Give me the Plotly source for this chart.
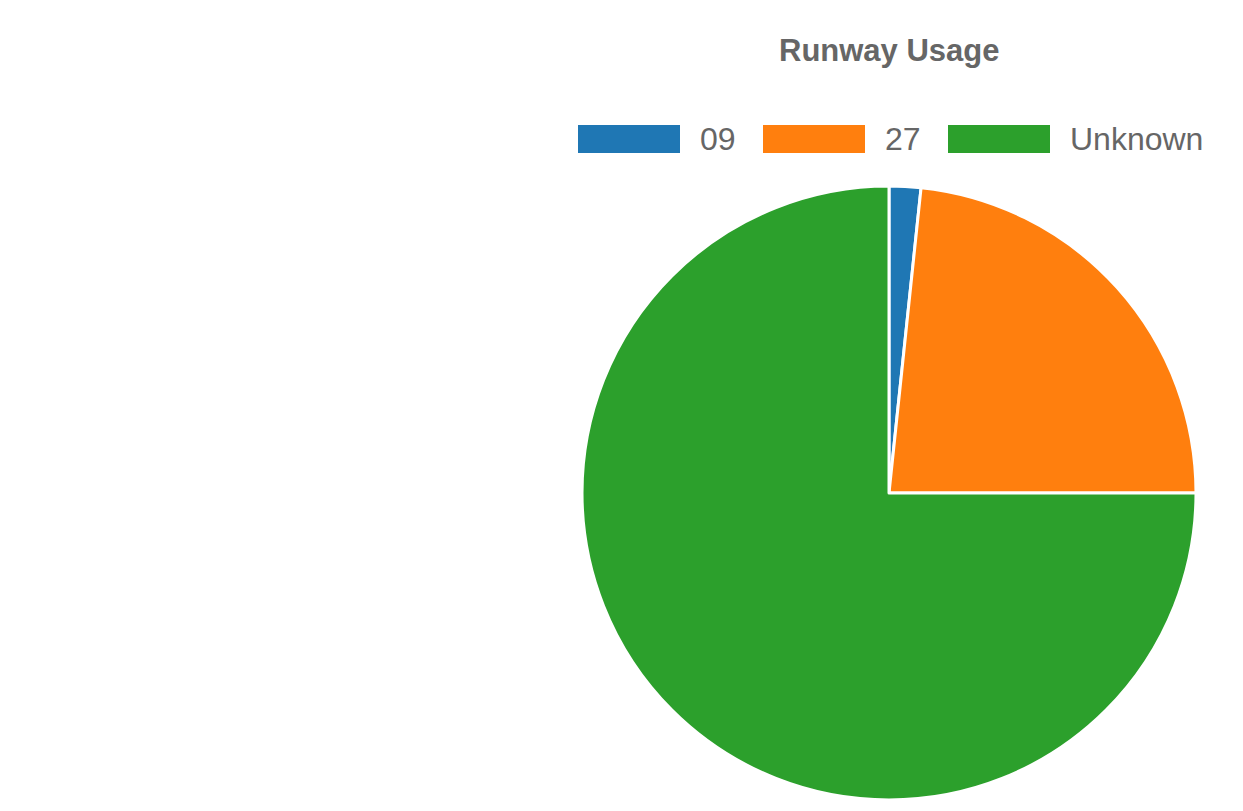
import plotly.graph_objects as go

categories = ["09", "27", "Unknown"]
values = [2, 28, 90]
colors = ["#1f77b4", "#ff7f0e", "#2ca02c"]
title_text = "Runway Usage"

W, H = 1243, 811
OFF = 8  # page body margin offset

def px(x):
    return (x - OFF) / W

def py(y):
    return 1 - (y - OFF) / H

cx, cy, r = 889, 493, 307

fig = go.Figure(go.Pie(
    labels=categories,
    values=values,
    sort=False,
    direction="clockwise",
    rotation=0,
    marker=dict(colors=colors, line=dict(color="white", width=3)),
    textinfo="none",
    hoverinfo="label+value",
    showlegend=False,
    domain=dict(x=[px(cx - r), px(cx + r)], y=[py(cy + r), py(cy - r)]),
))

font_family = "Liberation Sans, Arial, sans-serif"
text_color = "#666666"

# custom legend, Chart.js style wide boxes
box_x = [578, 763, 948]
box_w, box_top, box_bot = 102, 125, 153
shapes = []
annotations = []
for i, (lab, col) in enumerate(zip(categories, colors)):
    x0 = box_x[i]
    shapes.append(dict(type="rect", xref="paper", yref="paper",
                       x0=px(x0), x1=px(x0 + box_w), y0=py(box_bot), y1=py(box_top),
                       fillcolor=col, line=dict(color="white", width=0)))
    annotations.append(dict(xref="paper", yref="paper", x=px(x0 + box_w + 18), y=py(139),
                            xanchor="left", yanchor="middle", showarrow=False, text=lab,
                            font=dict(family=font_family, size=32, color=text_color)))

annotations.append(dict(xref="paper", yref="paper", x=px(889), y=py(50),
                        xanchor="center", yanchor="middle", showarrow=False,
                        text="<b>" + title_text + "</b>",
                        font=dict(family=font_family, size=31, color=text_color)))

fig.update_layout(
    width=W, height=H,
    margin=dict(l=0, r=0, t=0, b=0),
    paper_bgcolor="white", plot_bgcolor="white",
    shapes=shapes, annotations=annotations,
)

fig.write_html("out.html")
